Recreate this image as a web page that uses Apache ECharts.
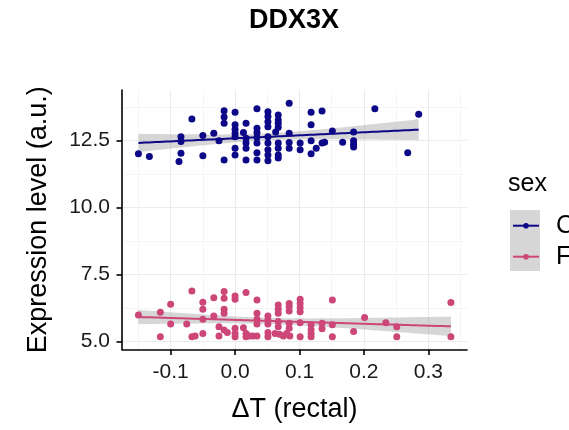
<!DOCTYPE html>
<html>
<head>
<meta charset="utf-8">
<script src="https://cdn.jsdelivr.net/npm/echarts@6/dist/echarts.min.js"></script>
<style>
  html, body { margin: 0; padding: 0; background: #fff; }
  #chart { width: 569px; height: 430px; }
</style>
</head>
<body>
<div id="chart"></div>
<script>
// values
const maleX = [-0.150, -0.133, -0.084, -0.084, -0.084, -0.087, -0.067, -0.050, -0.050, -0.033,
  -0.025, -0.017, -0.017, -0.017, -0.017, 0.000, 0.000, 0.000, 0.000, 0.000,
  0.000, 0.000, 0.017, 0.013, 0.017, 0.017, 0.017, 0.017, 0.034, 0.034,
  0.034, 0.034, 0.034, 0.034, 0.034, 0.051, 0.051, 0.051, 0.051, 0.051,
  0.051, 0.051, 0.051, 0.051, 0.067, 0.067, 0.067, 0.067, 0.063, 0.067,
  0.067, 0.067, 0.067, 0.084, 0.084, 0.084, 0.084, 0.101, 0.101, 0.118,
  0.135, 0.118, 0.118, 0.118, 0.126, 0.135, 0.139, 0.151, 0.167, 0.184,
  0.184, 0.184, 0.184, 0.217, 0.268, 0.285];
const maleY = [12.00, 11.90, 12.64, 12.46, 12.02, 11.71, 13.30, 12.68, 11.93, 12.77,
  12.49, 13.61, 13.37, 13.14, 11.77, 13.55, 13.08, 12.92, 12.77, 12.64,
  12.21, 11.96, 13.14, 12.79, 12.58, 12.40, 12.21, 11.77, 13.68, 12.95,
  12.79, 12.62, 12.40, 12.04, 11.77, 13.57, 13.39, 13.20, 13.01, 12.64,
  12.40, 12.15, 11.96, 11.74, 13.45, 13.26, 13.14, 12.99, 12.81, 12.40,
  12.21, 11.96, 11.84, 13.89, 12.77, 12.42, 12.21, 12.40, 12.15, 13.55,
  13.60, 13.08, 12.49, 12.00, 12.21, 12.40, 12.43, 12.85, 12.43, 12.81,
  12.49, 12.36, 12.25, 13.68, 12.04, 13.48];
const femaleX = [-0.150, -0.116, -0.116, -0.100, -0.100, -0.075, -0.067, -0.067, -0.062, -0.050,
  -0.050, -0.050, -0.050, -0.033, -0.033, -0.025, -0.025, -0.017, -0.017, -0.017,
  -0.017, -0.017, -0.012, 0.000, 0.000, 0.000, 0.000, 0.000, 0.017, 0.013,
  0.017, 0.017, 0.023, 0.028, 0.034, 0.034, 0.034, 0.034, 0.034, 0.051,
  0.051, 0.051, 0.051, 0.051, 0.067, 0.067, 0.067, 0.067, 0.067, 0.062,
  0.069, 0.075, 0.084, 0.084, 0.084, 0.084, 0.084, 0.080, 0.085, 0.101,
  0.101, 0.101, 0.101, 0.101, 0.101, 0.118, 0.118, 0.118, 0.118, 0.135,
  0.135, 0.151, 0.151, 0.151, 0.184, 0.201, 0.234, 0.251, 0.251, 0.335,
  0.335];
const femaleY = [5.99, 6.09, 5.18, 6.39, 5.65, 5.65, 6.88, 5.18, 5.20, 6.46,
  6.20, 5.83, 5.30, 6.63, 5.95, 5.55, 5.20, 6.86, 6.61, 6.20,
  6.05, 5.43, 5.33, 6.70, 6.57, 5.49, 5.30, 5.18, 6.83, 5.51,
  5.30, 5.18, 5.20, 5.20, 5.20, 6.55, 6.05, 5.83, 5.65, 5.95,
  5.80, 5.65, 5.33, 5.18, 6.36, 6.20, 6.05, 5.74, 5.55, 5.30,
  5.27, 5.20, 6.42, 6.30, 6.14, 5.68, 5.49, 5.30, 5.20, 6.57,
  6.42, 6.26, 6.11, 5.70, 5.18, 5.62, 5.45, 5.30, 5.18, 5.68,
  5.47, 6.55, 5.62, 5.18, 5.37, 5.89, 5.70, 5.55, 5.18, 6.45,
  5.18];

const groups = ['C', 'F'];
const colors = ['#0d0887', '#cc4778'];
const xTicks = [-0.1, 0, 0.1, 0.2, 0.3];
const xMinor = [-0.15, -0.05, 0.05, 0.15, 0.25, 0.35];
const yTicks = [5, 7.5, 10, 12.5];
const yMinor = [6.25, 8.75, 11.25, 13.75];

const font = '"Liberation Sans", Arial, sans-serif';
const X_MIN = -0.1755, X_MAX = 0.36;
const Y_MIN = 4.70, Y_MAX = 14.38;

// linear fit with 95% band, like geom_smooth(method = 'lm')
function lmFit(xs, ys) {
  const n = xs.length;
  const mx = xs.reduce((a, b) => a + b, 0) / n;
  const my = ys.reduce((a, b) => a + b, 0) / n;
  let sxx = 0, sxy = 0;
  for (let i = 0; i < n; i++) {
    sxx += (xs[i] - mx) * (xs[i] - mx);
    sxy += (xs[i] - mx) * (ys[i] - my);
  }
  const b = sxy / sxx, a = my - b * mx;
  let rss = 0;
  for (let i = 0; i < n; i++) rss += Math.pow(ys[i] - (a + b * xs[i]), 2);
  const s = Math.sqrt(rss / (n - 2));
  const t = 1.99;
  const lo = Math.min(...xs), hi = Math.max(...xs);
  const line = [], half = [];
  for (let i = 0; i <= 80; i++) {
    const x = lo + (hi - lo) * i / 80;
    line.push([x, a + b * x]);
    half.push(t * s * Math.sqrt(1 / n + Math.pow(x - mx, 2) / sxx));
  }
  return { line, half };
}

const fits = [lmFit(maleX, maleY), lmFit(femaleX, femaleY)];
const pts = [maleX.map((x, i) => [x, maleY[i]]), femaleX.map((x, i) => [x, femaleY[i]])];

const series = [];
groups.forEach((g, k) => {
  series.push({
    name: g, type: 'line', data: fits[k].line, z: 5,
    symbol: 'circle', symbolSize: 6, showSymbol: false,
    lineStyle: { color: colors[k], width: 2 },
    itemStyle: { color: colors[k] },
    silent: true
  });
});
groups.forEach((g, k) => {
  const f = fits[k];
  series.push({
    name: 'band ' + g, type: 'custom', z: 2, silent: true,
    data: [f.line[0]],
    renderItem: (params, api) => {
      const up = f.line.map((p, i) => api.coord([p[0], p[1] + f.half[i]]));
      const dn = f.line.map((p, i) => api.coord([p[0], p[1] - f.half[i]])).reverse();
      return {
        type: 'polygon',
        shape: { points: up.concat(dn) },
        style: { fill: '#999999', opacity: 0.4 }
      };
    }
  });
});
groups.forEach((g, k) => {
  series.push({
    name: g, type: 'scatter', data: pts[k], z: 3,
    symbolSize: 7, itemStyle: { color: colors[k], opacity: 1 }
  });
});

const chart = echarts.init(document.getElementById('chart'));
chart.setOption({
  animation: false,
  backgroundColor: '#ffffff',
  textStyle: { fontFamily: font },
  title: [
    { text: 'DDX3X', left: 294, top: 7, padding: 0, textAlign: 'center',
      textStyle: { fontSize: 27, fontWeight: 'bold', color: '#000', fontFamily: font } },
    { text: 'sex', left: 508, top: 172, padding: 0,
      textStyle: { fontSize: 25, fontWeight: 'normal', color: '#000', fontFamily: font } }
  ],
  graphic: [
    { type: 'rect', left: 510, top: 210, z: 0, shape: { width: 30, height: 61 },
      style: { fill: '#d6d6d6' } }
  ],
  legend: {
    data: groups, orient: 'vertical', left: 512, top: 210.7, padding: 0,
    itemWidth: 26, itemHeight: 7, itemGap: 1,
    textStyle: { fontSize: 25, lineHeight: 30, color: '#000', padding: [0, 0, 0, 12], fontFamily: font }
  },
  grid: { left: 122, right: 102, top: 90, bottom: 80.5, containLabel: false, outerBoundsMode: 'none' },
  xAxis: [
    {
      type: 'value', min: X_MIN, max: X_MAX, position: 'bottom',
      name: 'ΔT (rectal)', nameLocation: 'middle', nameGap: 47,
      nameTextStyle: { fontSize: 27, color: '#000', fontFamily: font },
      axisLine: { show: true, onZero: false, lineStyle: { color: '#000', width: 1.6 } },
      axisTick: { show: true, length: 5.5, customValues: xTicks, lineStyle: { color: '#000', width: 1.6 } },
      axisLabel: { customValues: xTicks, formatter: v => v.toFixed(1), fontSize: 21, color: '#1a1a1a', margin: 12, fontFamily: font },
      splitLine: { show: true, lineStyle: { color: '#ebebeb', width: 1 } }
    },
    {
      type: 'value', min: X_MIN, max: X_MAX, position: 'top',
      axisLine: { show: false }, axisTick: { show: false, customValues: xMinor },
      axisLabel: { show: false },
      splitLine: { show: true, lineStyle: { color: '#f5f5f5', width: 1 } }
    }
  ],
  yAxis: [
    {
      type: 'value', min: Y_MIN, max: Y_MAX, position: 'left',
      name: 'Expression level (a.u.)', nameLocation: 'middle', nameGap: 70,
      nameTextStyle: { fontSize: 27, color: '#000', fontFamily: font },
      axisLine: { show: true, onZero: false, lineStyle: { color: '#000', width: 1.6 } },
      axisTick: { show: true, length: 5.5, customValues: yTicks, lineStyle: { color: '#000', width: 1.6 } },
      axisLabel: { customValues: yTicks, formatter: v => v.toFixed(1), fontSize: 21, color: '#1a1a1a', margin: 12, fontFamily: font },
      splitLine: { show: true, lineStyle: { color: '#ebebeb', width: 1 } }
    },
    {
      type: 'value', min: Y_MIN, max: Y_MAX, position: 'right',
      axisLine: { show: false }, axisTick: { show: false, customValues: yMinor },
      axisLabel: { show: false },
      splitLine: { show: true, lineStyle: { color: '#f5f5f5', width: 1 } }
    }
  ],
  series: series
});
</script>
</body>
</html>
